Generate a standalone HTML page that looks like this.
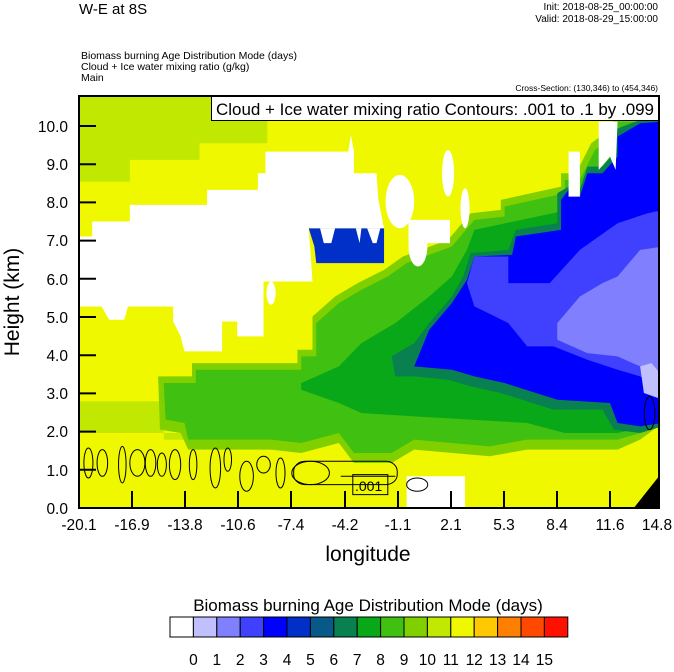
<!DOCTYPE html>
<html><head><meta charset="utf-8"><style>
body{margin:0;background:#fff;width:674px;height:667px;overflow:hidden;font-family:"Liberation Sans",sans-serif}
</style></head><body>
<svg width="674" height="667" viewBox="0 0 674 667" xmlns="http://www.w3.org/2000/svg" font-family="Liberation Sans, sans-serif">
<defs><clipPath id="pc"><rect x="79" y="96" width="580" height="412"/></clipPath></defs>
<g clip-path="url(#pc)">
<g transform="translate(79,96) scale(0.3766,0.333) translate(-10,-18)">
<rect x="0" y="0" width="1600" height="1300" fill="#f0f800"/>
<polygon fill="#c0e800" points="10,18 510,18 510,160 330,160 330,210 145,210 145,275 10,275"/>
<polygon fill="#c0e800" points="10,935 235,935 235,1050 290,1050 290,1030 10,1030"/>
<polygon fill="#80d000" points="220,860 310,860 310,820 590,820 590,780 630,780 630,680 690,620 750,580 820,540 870,500 990,450 1050,370 1130,360 1130,330 1290,290 1290,250 1330,250 1370,160 1430,110 1430,80 1560,80 1560,1000 1500,1050 1440,1080 1200,1080 1100,1100 900,1080 840,1120 740,1120 700,1060 600,1090 520,1080 300,1080 280,1030 225,1020"/>
<polygon fill="#40c010" points="235,880 320,880 320,840 600,840 600,800 640,800 640,700 700,640 760,600 830,560 880,520 1000,470 1060,390 1140,380 1140,350 1300,310 1300,270 1340,270 1380,180 1440,130 1440,95 1560,95 1560,900 1500,1030 1440,1050 1200,1050 1100,1070 900,1050 840,1090 740,1090 700,1030 600,1060 520,1050 300,1050 290,1000 240,990"/>
<polygon fill="#08a818" points="600,880 700,830 760,760 850,700 940,620 1000,560 1040,480 1060,420 1560,300 1560,1000 1440,1030 1300,1030 1200,1000 1050,990 900,980 760,970 700,940 600,900"/>
<polygon fill="#088050" points="840,800 900,760 940,700 1000,620 1030,560 1050,490 1150,480 1170,420 1280,400 1280,310 1310,290 1340,300 1360,230 1400,230 1430,190 1430,120 1500,90 1560,90 1560,1010 1500,1030 1430,1020 1400,960 1270,960 1130,910 1050,890 990,870 900,860 850,860"/>
<polygon fill="#0000ff" points="900,830 940,720 1000,640 1040,570 1060,500 1160,495 1170,440 1290,420 1290,330 1310,300 1340,320 1360,250 1400,250 1440,200 1440,140 1500,100 1560,95 1560,1000 1500,1010 1440,1000 1420,940 1280,930 1140,880 1060,860 1000,840"/>
<polygon fill="#4040ff" points="1060,500 1150,500 1150,580 1260,580 1340,480 1440,400 1520,370 1560,360 1560,900 1500,860 1440,840 1360,810 1270,770 1200,770 1150,700 1060,650 1040,580"/>
<polygon fill="#0000ff" points="1060,650 1150,700 1150,770 1060,760 1000,700"/>
<polygon fill="#8080ff" points="1280,700 1340,620 1400,580 1440,560 1500,480 1560,470 1560,880 1500,830 1440,800 1360,790 1280,750"/>
<polygon fill="#c0c0ff" points="1500,830 1530,820 1560,860 1560,930 1510,910"/>
<polygon fill="#0030c8" points="620,415 820,415 820,520 640,520 635,470"/>
<polygon fill="#fff" points="10,440 45,440 45,395 145,395 145,345 350,345 350,300 485,300 485,250 505,250 505,185 725,185 732,135 740,185 740,250 800,250 805,330 820,415 620,415 630,575 500,575 500,740 430,740 430,695 390,695 390,785 290,785 280,740 260,695 260,650 140,650 130,690 90,690 70,650 10,650"/>
<polygon fill="#fff" points="650,415 690,415 680,460 660,460"/>
<polygon fill="#fff" points="745,415 760,415 755,460"/>
<polygon fill="#fff" points="775,415 810,415 800,460 790,460"/>
<ellipse cx="862" cy="335" rx="38" ry="80" fill="#fff"/>
<rect x="885" y="390" width="110" height="70" fill="#fff"/>
<ellipse cx="910" cy="470" rx="25" ry="60" fill="#fff"/>
<ellipse cx="990" cy="250" rx="16" ry="70" fill="#fff"/>
<ellipse cx="1035" cy="355" rx="12" ry="60" fill="#fff"/>
<polygon fill="#fff" points="1390,95 1440,95 1435,240 1420,200 1390,240"/>
<polygon fill="#fff" points="1310,185 1340,185 1340,320 1310,320"/>
<ellipse cx="520" cy="610" rx="12" ry="35" fill="#fff"/>
<rect x="880" y="1160" width="155" height="100" fill="#fff"/>
<polygon fill="#000" points="1480,1260 1550,1160 1560,1160 1560,1260"/>
<g fill="none" stroke="#000" stroke-width="1">
<ellipse cx="35" cy="1120" rx="12" ry="45" vector-effect="non-scaling-stroke"/>
<ellipse cx="72" cy="1120" rx="14" ry="40" vector-effect="non-scaling-stroke"/>
<ellipse cx="125" cy="1125" rx="10" ry="55" vector-effect="non-scaling-stroke"/>
<ellipse cx="165" cy="1120" rx="20" ry="40" vector-effect="non-scaling-stroke"/>
<ellipse cx="200" cy="1120" rx="14" ry="40" vector-effect="non-scaling-stroke"/>
<ellipse cx="230" cy="1125" rx="12" ry="35" vector-effect="non-scaling-stroke"/>
<ellipse cx="265" cy="1125" rx="15" ry="45" vector-effect="non-scaling-stroke"/>
<ellipse cx="313" cy="1125" rx="10" ry="45" vector-effect="non-scaling-stroke"/>
<ellipse cx="372" cy="1135" rx="14" ry="60" vector-effect="non-scaling-stroke"/>
<ellipse cx="405" cy="1110" rx="10" ry="35" vector-effect="non-scaling-stroke"/>
<ellipse cx="455" cy="1160" rx="18" ry="45" vector-effect="non-scaling-stroke"/>
<ellipse cx="500" cy="1125" rx="18" ry="25" vector-effect="non-scaling-stroke"/>
<ellipse cx="545" cy="1150" rx="12" ry="45" vector-effect="non-scaling-stroke"/>
<ellipse cx="625" cy="1150" rx="50" ry="35" vector-effect="non-scaling-stroke"/>
<rect x="580" y="1115" width="275" height="70" rx="30" vector-effect="non-scaling-stroke"/>
<ellipse cx="908" cy="1185" rx="28" ry="20" vector-effect="non-scaling-stroke"/>
<ellipse cx="1525" cy="970" rx="14" ry="50" vector-effect="non-scaling-stroke"/>
<line x1="705" y1="1160" x2="850" y2="1160" vector-effect="non-scaling-stroke"/>
</g>
<rect x="737" y="1155" width="93" height="60" fill="none" stroke="#000" vector-effect="non-scaling-stroke"/>
</g>
</g>
<text x="355" y="491" font-size="14">.001</text>
<rect x="211.5" y="96.5" width="447" height="24" fill="#fff" stroke="#000"/>
<text x="216" y="115" font-size="17" textLength="438" lengthAdjust="spacingAndGlyphs">Cloud + Ice water mixing ratio Contours: .001 to .1 by .099</text>
<rect x="79" y="96" width="580" height="412" fill="none" stroke="#000" stroke-width="2"/>
<g stroke="#000" stroke-width="2">
<line x1="79" y1="508" x2="96" y2="508"/><line x1="79" y1="469.8" x2="96" y2="469.8"/><line x1="79" y1="431.6" x2="96" y2="431.6"/><line x1="79" y1="393.4" x2="96" y2="393.4"/><line x1="79" y1="355.2" x2="96" y2="355.2"/><line x1="79" y1="317" x2="96" y2="317"/><line x1="79" y1="278.8" x2="96" y2="278.8"/><line x1="79" y1="240.6" x2="96" y2="240.6"/><line x1="79" y1="202.4" x2="96" y2="202.4"/><line x1="79" y1="164.2" x2="96" y2="164.2"/><line x1="79" y1="126" x2="96" y2="126"/>
<line x1="132" y1="508" x2="132" y2="491"/><line x1="185" y1="508" x2="185" y2="491"/><line x1="238" y1="508" x2="238" y2="491"/><line x1="291" y1="508" x2="291" y2="491"/><line x1="345" y1="508" x2="345" y2="491"/><line x1="398" y1="508" x2="398" y2="491"/><line x1="451" y1="508" x2="451" y2="491"/><line x1="504" y1="508" x2="504" y2="491"/><line x1="557" y1="508" x2="557" y2="491"/><line x1="610" y1="508" x2="610" y2="491"/>
</g>
<g font-size="15.5" text-anchor="end">
<text x="68" y="514">0.0</text><text x="68" y="476">1.0</text><text x="68" y="437">2.0</text><text x="68" y="399">3.0</text><text x="68" y="361">4.0</text><text x="68" y="323">5.0</text><text x="68" y="285">6.0</text><text x="68" y="246">7.0</text><text x="68" y="208">8.0</text><text x="68" y="170">9.0</text><text x="68" y="132">10.0</text>
</g>
<g font-size="15.5" text-anchor="middle">
<text x="79" y="530">-20.1</text><text x="132" y="530">-16.9</text><text x="185" y="530">-13.8</text><text x="238" y="530">-10.6</text><text x="291" y="530">-7.4</text><text x="345" y="530">-4.2</text><text x="398" y="530">-1.1</text><text x="451" y="530">2.1</text><text x="504" y="530">5.3</text><text x="557" y="530">8.4</text><text x="610" y="530">11.6</text><text x="657" y="530">14.8</text>
</g>
<text x="368" y="561" font-size="21" text-anchor="middle">longitude</text>
<text transform="translate(19,302) rotate(-90)" font-size="21" text-anchor="middle">Height (km)</text>
<text x="79" y="14" font-size="15">W-E at 8S</text>
<g font-size="10" text-anchor="end"><text x="658" y="10">Init: 2018-08-25_00:00:00</text><text x="658" y="22">Valid: 2018-08-29_15:00:00</text><text x="658" y="91" font-size="8.5">Cross-Section: (130,346) to (454,346)</text></g>
<g font-size="10.5"><text x="81" y="59">Biomass burning Age Distribution Mode    (days)</text><text x="81" y="70">Cloud + Ice water mixing ratio    (g/kg)</text><text x="81" y="81">Main</text></g>
<text x="368" y="611" font-size="17" text-anchor="middle">Biomass burning Age Distribution Mode  (days)</text>
<g stroke="#000" stroke-width="1">
<rect x="170" y="617" width="23.4" height="20" fill="#ffffff"/>
<rect x="193.4" y="617" width="23.4" height="20" fill="#c0c0ff"/>
<rect x="216.8" y="617" width="23.4" height="20" fill="#8080ff"/>
<rect x="240.2" y="617" width="23.4" height="20" fill="#4040ff"/>
<rect x="263.6" y="617" width="23.4" height="20" fill="#0000ff"/>
<rect x="287" y="617" width="23.4" height="20" fill="#0030c8"/>
<rect x="310.4" y="617" width="23.4" height="20" fill="#085888"/>
<rect x="333.8" y="617" width="23.4" height="20" fill="#088050"/>
<rect x="357.2" y="617" width="23.4" height="20" fill="#08a818"/>
<rect x="380.6" y="617" width="23.4" height="20" fill="#40c010"/>
<rect x="404" y="617" width="23.4" height="20" fill="#80d000"/>
<rect x="427.4" y="617" width="23.4" height="20" fill="#c0e800"/>
<rect x="450.8" y="617" width="23.4" height="20" fill="#f0f800"/>
<rect x="474.2" y="617" width="23.4" height="20" fill="#ffc800"/>
<rect x="497.6" y="617" width="23.4" height="20" fill="#ff8000"/>
<rect x="521" y="617" width="23.4" height="20" fill="#ff4800"/>
<rect x="544.4" y="617" width="23.4" height="20" fill="#ff1000"/>
</g>
<g font-size="15.5" text-anchor="middle">
<text x="193.4" y="665">0</text><text x="216.8" y="665">1</text><text x="240.2" y="665">2</text><text x="263.6" y="665">3</text><text x="287" y="665">4</text><text x="310.4" y="665">5</text><text x="333.8" y="665">6</text><text x="357.2" y="665">7</text><text x="380.6" y="665">8</text><text x="404" y="665">9</text><text x="427.4" y="665">10</text><text x="450.8" y="665">11</text><text x="474.2" y="665">12</text><text x="497.6" y="665">13</text><text x="521" y="665">14</text><text x="544.4" y="665">15</text>
</g>
</svg>
</body></html>
